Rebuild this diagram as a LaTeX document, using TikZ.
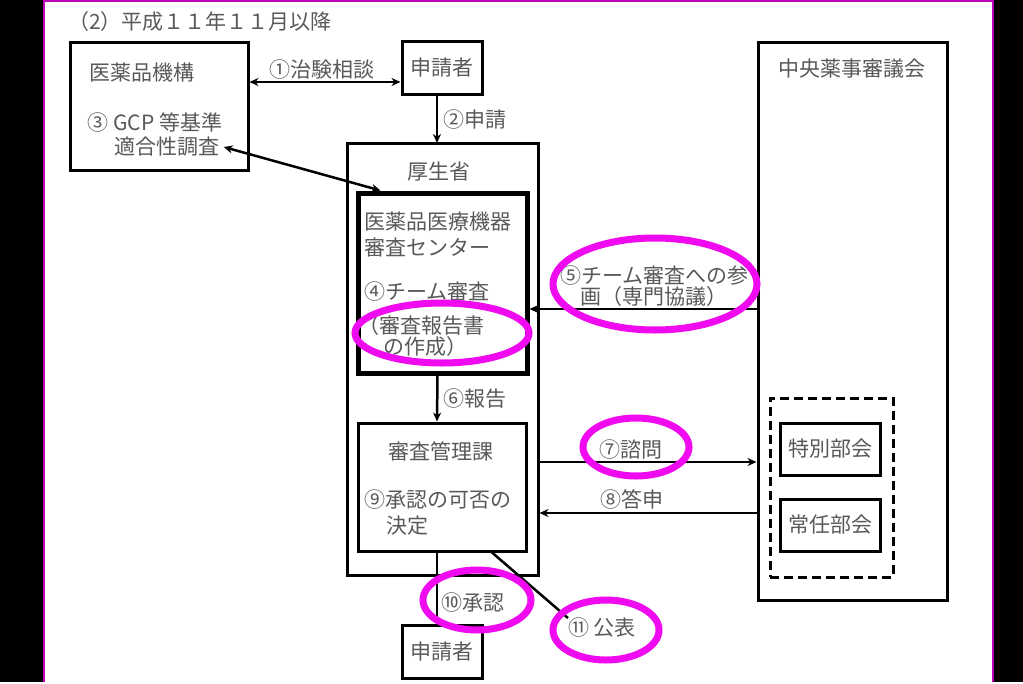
\documentclass[tikz,border=0pt]{standalone}
\usepackage{fontspec}
\setmainfont{Noto Sans CJK JP}
\usepackage{xcolor}
\usetikzlibrary{arrows.meta}

\definecolor{evid}{RGB}{240,10,240}
\definecolor{cornice}{RGB}{190,0,190}

\begin{document}
\begin{tikzpicture}[x=1pt,y=-1pt,>={Stealth[length=9pt,width=8pt]}]

% Stili per testi, scatole e cerchiature
\tikzset{testo/.style={text=black!65, font=\fontsize{21pt}{21pt}\selectfont, inner sep=0pt},
  scatola/.style={testo, draw=black, line width=3pt},
  freccia/.style={line width=2.5pt},
  evidenza/.style={draw=evid, line width=7pt}}

% --- Sfondo ---
\fill[black] (0,0) rectangle (1023,682);
\fill[white] (44,1) rectangle (993,682);
\draw[cornice, line width=2pt] (44,682) -- (44,1) -- (993,1) -- (993,682);

% Titolo
\node[testo, anchor=west] (titolo) at (68,22) {（2）平成１１年１１月以降};

% --- Parte sinistra: ente e richiedente ---
\node[scatola, minimum width=178pt, minimum height=128pt] (kikou) at (159,106) {};
\node[testo] (kikoutit) at (142,73) {医薬品機構};
\node[testo] (gcp) at (155,123) {③ GCP 等基準};
\node[testo] (tekigo) at (167,147) {適合性調査};

\node[scatola, minimum width=80pt, minimum height=53pt] (shinsei) at (442,68) {申請者};

% Frecce in alto
\draw[<->, freccia] (kikou.east |- 0,82) -- node[testo, above=1pt, pos=0.48] (l1) {①治験相談} (shinsei.west |- 0,82);
\draw[->, freccia] ([xshift=-5pt]shinsei.south) -- ([xshift=-5pt]shinsei.south |- 0,143) node[testo, right=5pt, midway] (l2) {②申請};

% --- Parte centrale: ministero ---
\node[scatola, minimum width=191pt, minimum height=432pt] (koseisho) at (442.5,359) {};
\node[testo] (koseitit) at (439,172) {厚生省};

\node[scatola, line width=5pt, minimum width=169pt, minimum height=180pt] (center) at (442.5,283) {};
\node[testo, anchor=west] (c1) at (364,222) {医薬品医療機器};
\node[testo, anchor=west] (c2) at (364,247) {審査センター};
\node[testo, anchor=west] (c3) at (364,292) {④チーム審査};
\node[testo, anchor=west] (c4) at (358,326) {（審査報告書};
\node[testo, anchor=west] (c5) at (383,347) {の作成）};

\draw[<->, freccia] ([xshift=4pt]tekigo.east) -- ([xshift=25pt]center.north west);

\node[scatola, minimum width=168pt, minimum height=128pt] (kanri) at (442,487) {};
\node[testo] (k1) at (441,451) {審査管理課};
\node[testo, anchor=west] (k2) at (364,500) {⑨承認の可否の};
\node[testo, anchor=west] (k3) at (386,526) {決定};

\draw[->, freccia] ([xshift=-5pt]center.south) -- ([xshift=-5pt]kanri.north) node[testo, right=5pt, midway] (l6) {⑥報告};

% --- Parte inferiore ---
\node[scatola, minimum width=80pt, minimum height=53pt] (shinsei2) at (442,651.5) {申請者};
\node[testo] (koho) at (602,628) {⑪ 公表};

\draw[freccia] ([xshift=-5pt]kanri.south) -- ([xshift=-5pt]shinsei2.north) node[testo, right=3pt, pos=0.7] (l10) {⑩承認};
\draw[freccia] ([xshift=50pt]kanri.south) -- (koho.north west);

% --- Parte destra: consiglio ---
\node[scatola, minimum width=189pt, minimum height=558pt] (chuo) at (852.5,321) {};
\node[testo] (chuotit) at (852,69) {中央薬事審議会};
\node[draw, line width=3pt, dash pattern=on 9pt off 5pt, minimum width=123pt, minimum height=179pt] (bukai) at (831.5,487.5) {};
\node[scatola, minimum width=100pt, minimum height=52pt] (tokubetsu) at (830,449) {特別部会};
\node[scatola, minimum width=100pt, minimum height=52pt] (jonin) at (830,525) {常任部会};

% Frecce di collegamento
\draw[->, freccia] (chuo.west |- 0,309) -- node[testo, above=1pt, pos=0.45, align=center] (l5) {⑤チーム審査への参\\画（専門協議）} (center.east |- 0,309);
\draw[->, freccia] (koseisho.east |- 0,462) -- node[testo, above=1pt, pos=0.42] (l7) {⑦諮問} (chuo.west |- 0,462);
\draw[->, freccia] (chuo.west |- 0,513) -- node[testo, above=2pt, pos=0.575] (l8) {⑧答申} (koseisho.east |- 0,513);

% Cerchiature
\draw[evidenza] (655,284) ellipse [x radius=102pt, y radius=46pt];
\draw[evidenza] (442,333) ellipse [x radius=87pt, y radius=30pt];
\draw[evidenza] (636,447) ellipse [x radius=53pt, y radius=29pt];
\draw[evidenza] (477,600) ellipse [x radius=54pt, y radius=30pt];
\draw[evidenza] (606,630) ellipse [x radius=53pt, y radius=30pt];

\end{tikzpicture}
\end{document}
